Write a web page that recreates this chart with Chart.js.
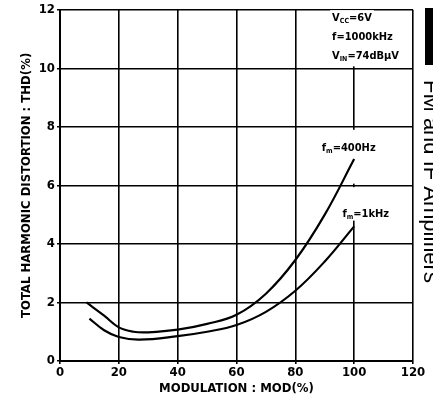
<!DOCTYPE html>
<html lang="en">

<head>
    <meta charset="UTF-8">
    <title>THD vs MOD</title>
    <style>
        html, body {
            margin: 0;
            padding: 0;
            background: #fff;
        }

        .wrap {
            position: relative;
            width: 433px;
            height: 401px;
        }
    </style>
    <script src="https://cdn.jsdelivr.net/npm/chart.js"></script>
</head>

<body>
    <div class="wrap">
        <canvas id="thdChart" width="433" height="401"></canvas>
    </div>
    <script>
        // values
        var mod400 = [9, 15, 20, 25, 30, 40, 50, 60, 70, 80, 90, 100];
        var thd400 = [2.0, 1.55, 1.15, 1.0, 0.98, 1.07, 1.27, 1.58, 2.3, 3.45, 5.0, 6.9];

        var mod1k = [10, 15, 20, 27, 40, 50, 60, 70, 80, 90, 100];
        var thd1k = [1.45, 1.05, 0.82, 0.73, 0.85, 1.0, 1.23, 1.68, 2.4, 3.4, 4.6];

        var xTicks = [0, 20, 40, 60, 80, 100, 120];
        var yTicks = [0, 2, 4, 6, 8, 10, 12];

        var xTitle = 'MODULATION : MOD(%)';
        var yTitle = 'TOTAL HARMONIC DISTORTION : THD(%)';
        var sideText = 'FM and IF Amplifiers';

        // text notes: [x, y, segments] segments are [text, isSubscript]
        var notes = [
            [92.5, 11.75, [['V', 0], ['CC', 1], ['=6V', 0]]],
            [92.5, 11.1, [['f=1000kHz', 0]]],
            [92.5, 10.45, [['V', 0], ['IN', 1], ['=74dBμV', 0]]],
            [89, 7.3, [['f', 0], ['m', 1], ['=400Hz', 0]]],
            [96, 5.05, [['f', 0], ['m', 1], ['=1kHz', 0]]]
        ];

        var FONT = "'Liberation Sans Narrow', 'DejaVu Sans Condensed', 'Liberation Sans', Arial, sans-serif";

        function toPoints(xs, ys) {
            var pts = [];
            for (var i = 0; i < xs.length; i++) {
                pts.push({ x: xs[i], y: ys[i] });
            }
            return pts;
        }

        var notesPlugin = {
            id: 'notes',
            beforeDatasetsDraw: function (chart) {
                // the scan has no grid behind the top note and along x=100 between the curves
                var ctx = chart.ctx;
                var sx = chart.scales.x, sy = chart.scales.y;
                ctx.save();
                ctx.fillStyle = '#fff';
                var bx = sx.getPixelForValue(91.5);
                var by = sy.getPixelForValue(12);
                ctx.fillRect(bx, by + 2, sx.getPixelForValue(120) - bx - 2, sy.getPixelForValue(10) - by - 4);
                var gx = sx.getPixelForValue(100);
                [[7.9, 6.06], [5.94, 4.8]].forEach(function (r) {
                    ctx.fillRect(gx - 2, sy.getPixelForValue(r[0]), 4, sy.getPixelForValue(r[1]) - sy.getPixelForValue(r[0]));
                });
                ctx.restore();
            },
            afterDatasetsDraw: function (chart) {
                var ctx = chart.ctx;
                var sx = chart.scales.x, sy = chart.scales.y;
                ctx.save();
                notes.forEach(function (n) {
                    var px = sx.getPixelForValue(n[0]);
                    var py = sy.getPixelForValue(n[1]);
                    var w = 0;
                    n[2].forEach(function (s) {
                        ctx.font = 'bold ' + (s[1] ? 7 : 11) + 'px ' + FONT;
                        w += ctx.measureText(s[0]).width;
                    });
                    ctx.fillStyle = '#fff';
                    ctx.fillRect(px - 2, py - 7, w + 4, 14);
                    var cx = px;
                    ctx.fillStyle = '#000';
                    ctx.textBaseline = 'alphabetic';
                    n[2].forEach(function (s) {
                        ctx.font = 'bold ' + (s[1] ? 7 : 11) + 'px ' + FONT;
                        ctx.fillText(s[0], cx, py + (s[1] ? 6 : 4));
                        cx += ctx.measureText(s[0]).width;
                    });
                });

                // side strip on the right edge, cut off by the page edge
                ctx.fillStyle = '#000';
                ctx.fillRect(425, 8, 8, 57);
                ctx.translate(424, 80);
                ctx.rotate(Math.PI / 2);
                ctx.font = "22px 'Liberation Sans', Arial, sans-serif";
                ctx.textBaseline = 'alphabetic';
                ctx.fillText(sideText, 0, 0);
                ctx.restore();
            }
        };

        var ctx = document.getElementById('thdChart').getContext('2d');
        var thdChart = new Chart(ctx, {
            type: 'line',
            data: {
                datasets: [{
                    label: 'fm=400Hz',
                    data: toPoints(mod400, thd400),
                    borderColor: '#000',
                    borderWidth: 2.2,
                    pointRadius: 0,
                    tension: 0.4,
                    fill: false
                },
                {
                    label: 'fm=1kHz',
                    data: toPoints(mod1k, thd1k),
                    borderColor: '#000',
                    borderWidth: 2.2,
                    pointRadius: 0,
                    tension: 0.4,
                    fill: false
                }
                ]
            },
            options: {
                responsive: false,
                animation: false,
                layout: {
                    padding: { left: 0, right: 20, top: 7, bottom: 0 }
                },
                plugins: {
                    legend: { display: false },
                    tooltip: { enabled: false }
                },
                scales: {
                    x: {
                        type: 'linear',
                        min: 0,
                        max: 120,
                        afterBuildTicks: function (s) {
                            s.ticks = xTicks.map(function (v) { return { value: v }; });
                        },
                        afterFit: function (s) { s.height = 40; },
                        grid: { color: '#000', lineWidth: 1.6, tickLength: 3 },
                        border: { color: '#000', width: 2 },
                        ticks: {
                            color: '#000',
                            padding: 1,
                            maxRotation: 0,
                            font: { family: FONT, size: 13, weight: 'bold' }
                        },
                        title: {
                            display: true,
                            text: xTitle,
                            color: '#000',
                            padding: { top: 0, bottom: 5 },
                            font: { family: FONT, size: 13, weight: 'bold' }
                        }
                    },
                    y: {
                        type: 'linear',
                        min: 0,
                        max: 12,
                        afterBuildTicks: function (s) {
                            s.ticks = yTicks.map(function (v) { return { value: v }; });
                        },
                        afterFit: function (s) { s.width = 60; },
                        grid: { color: '#000', lineWidth: 1.6, tickLength: 3 },
                        border: { color: '#000', width: 2 },
                        ticks: {
                            color: '#000',
                            padding: 2,
                            font: { family: FONT, size: 13, weight: 'bold' }
                        },
                        title: {
                            display: true,
                            text: yTitle,
                            color: '#000',
                            padding: { top: 19, bottom: 0 },
                            font: { family: FONT, size: 13, weight: 'bold' }
                        }
                    }
                }
            },
            plugins: [notesPlugin]
        });
    </script>
</body>

</html>
